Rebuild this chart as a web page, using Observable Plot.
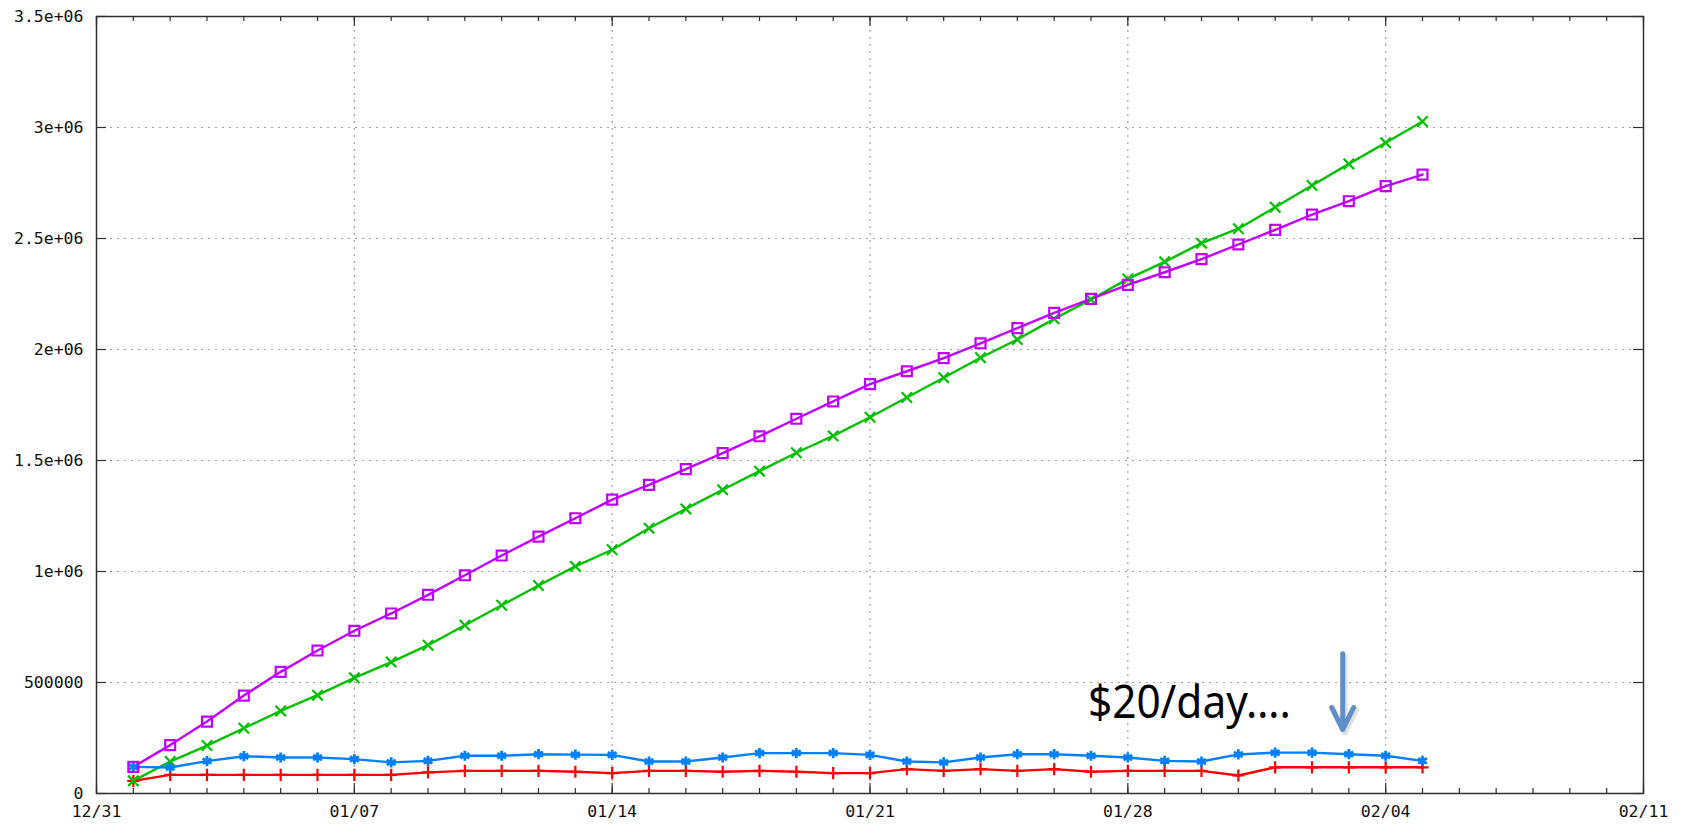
<!DOCTYPE html>
<html><head><meta charset="utf-8">
<script src="https://cdn.jsdelivr.net/npm/d3@7"></script>
<script src="https://cdn.jsdelivr.net/npm/@observablehq/plot@0.6"></script>
<style>body{margin:0;background:#fff}#chart{width:1688px;height:826px}</style>
</head><body><div id="chart"></div>
<script>
// ---- data (daily values, 01/01 .. 02/05) ----
const firstDay = "2015-01-01";
const purpleValues = [120000,218000,324000,441000,548000,644000,733000,811000,895000,983000,1072000,1157000,1240000,1324000,1390000,1461000,1533000,1609000,1688000,1766000,1844000,1902000,1961000,2028000,2096000,2165000,2228000,2291000,2348000,2407000,2473000,2539000,2608000,2668000,2736000,2788000];
const greenValues = [57000,144000,216000,294000,372000,443000,521000,592000,668000,758000,848000,937000,1023000,1098000,1195000,1282000,1368000,1452000,1535000,1611000,1695000,1784000,1873000,1963000,2045000,2138000,2225000,2318000,2395000,2479000,2544000,2641000,2739000,2836000,2931000,3027000];
const blueValues = [120000,117000,146000,168000,162000,162000,155000,140000,147000,170000,170000,177000,175000,174000,144000,144000,162000,182000,182000,182000,174000,144000,140000,162000,177000,177000,170000,162000,147000,144000,176000,184000,184000,177000,170000,147000];
const redValues = [57000,84000,84000,84000,84000,84000,84000,84000,95000,102000,102000,102000,98000,92000,102000,102000,98000,102000,98000,92000,92000,110000,102000,110000,102000,110000,98000,102000,102000,102000,81000,118000,118000,118000,118000,118000];

const xTickDates = ["2014-12-31","2015-01-07","2015-01-14","2015-01-21","2015-01-28","2015-02-04","2015-02-11"];
const xTickLabels = ["12/31","01/07","01/14","01/21","01/28","02/04","02/11"];
const yTickValues = [0,500000,1000000,1500000,2000000,2500000,3000000,3500000];
const yTickLabels = ["0","500000","1e+06","1.5e+06","2e+06","2.5e+06","3e+06","3.5e+06"];

const annotations = [{date:"2015-01-26T22:00:00Z", value:342000, label:"$20/day…."}];
const arrows = [{date:"2015-02-02T20:00:00Z", from:630000, to:288000}];

// ---- build ----
const W = 1688, H = 826, mL = 96, mR = 45, mT = 16, mB = 33;
const pw = W - mL - mR, ph = H - mT - mB;
const start = new Date(firstDay + "T00:00:00Z");
const xTicks = xTickDates.map(s => new Date(s + "T00:00:00Z"));
const minorDays = d3.utcDay.range(xTicks[0], d3.utcDay.offset(xTicks[xTicks.length-1], 1));

const series = [
  {values: redValues, color: "#ff0000", symbol: "plus", r: 4.0, sw: 2.2},
  {values: greenValues, color: "#00c000", symbol: "times", r: 4.8, sw: 2.2},
  {values: blueValues, color: "#0080ff", symbol: "asterisk", r: 4.8, sw: 2.8},
  {values: purpleValues, color: "#c000ff", symbol: "square", r: 5.6, sw: 2.2}
];
const rowsOf = s => s.values.map((v, i) => ({date: d3.utcDay.offset(start, i), value: v}));

const ann = annotations.map(a => ({...a, date: new Date(a.date)}));
const arr = arrows.map(a => ({...a, date: new Date(a.date)}));

const axisColor = "#303030";
const fmtX = d => xTickLabels[xTicks.findIndex(t => +t === +d)];
const fmtY = d => yTickLabels[yTickValues.indexOf(d)];

const plot = Plot.plot({
  width: W, height: H,
  marginLeft: mL, marginRight: mR, marginTop: mT, marginBottom: mB,
  style: {fontFamily: "DejaVu Sans Mono", fontSize: "16px", color: "#111", background: "#fff"},
  x: {type: "utc", domain: [xTicks[0], xTicks[xTicks.length-1]]},
  y: {domain: [0, 3500000]},
  marks: [
    Plot.gridX(xTicks.slice(1, -1), {stroke: "#a0a0a0", strokeOpacity: 1, strokeWidth: 1.2, strokeDasharray: "2,5"}),
    Plot.gridY(yTickValues.slice(1, -1), {stroke: "#a0a0a0", strokeOpacity: 1, strokeWidth: 1.2, strokeDasharray: "2,5"}),
    // minor x ticks (bottom + top, inward)
    Plot.tickX(minorDays, {insetTop: ph - 5, stroke: axisColor, strokeWidth: 1.2}),
    Plot.tickX(minorDays, {insetBottom: ph - 5, stroke: axisColor, strokeWidth: 1.2}),
    // major x ticks
    Plot.tickX(xTicks, {insetTop: ph - 10, stroke: axisColor, strokeWidth: 1.2}),
    Plot.tickX(xTicks, {insetBottom: ph - 10, stroke: axisColor, strokeWidth: 1.2}),
    // y ticks (left + right, inward)
    Plot.tickY(yTickValues, {insetRight: pw - 10, stroke: axisColor, strokeWidth: 1.2}),
    Plot.tickY(yTickValues, {insetLeft: pw - 10, stroke: axisColor, strokeWidth: 1.2}),
    Plot.frame({stroke: axisColor, strokeWidth: 1.5}),
    Plot.axisX(xTicks, {tickSize: 0, tickPadding: 12, tickFormat: fmtX, fontSize: 16.5, fill: "#111"}),
    Plot.axisY(yTickValues, {tickSize: 0, tickPadding: 13, tickFormat: fmtY, fontSize: 16.5, fill: "#111"}),
    ...series.map(s => Plot.line(rowsOf(s), {x: "date", y: "value", stroke: s.color, strokeWidth: 2.4})),
    ...series.map(s => Plot.dot(rowsOf(s), {x: "date", y: "value", symbol: s.symbol, r: s.r, stroke: s.color, fill: "none", strokeWidth: s.sw})),
    Plot.text(ann, {x: "date", y: "value", text: "label", textAnchor: "start", lineAnchor: "bottom", fontSize: 45, fontFamily: "Noto Sans", fill: "#000"}),
    Plot.arrow(arr, {x1: "date", x2: "date", y1: "from", y2: "to", stroke: "#000", strokeOpacity: 0.12, strokeWidth: 6, headLength: 7.4, headAngle: 53, dx: 2, dy: 3}),
    Plot.arrow(arr, {x1: "date", x2: "date", y1: "from", y2: "to", stroke: "#5f8fc6", strokeWidth: 5, headLength: 7.4, headAngle: 53})
  ]
});
document.getElementById("chart").appendChild(plot);
// fit annotation width
plot.querySelectorAll('g[aria-label="text"] text').forEach(t => {
  t.setAttribute("textLength", "203");
  t.setAttribute("lengthAdjust", "spacingAndGlyphs");
});
</script>
</body></html>
